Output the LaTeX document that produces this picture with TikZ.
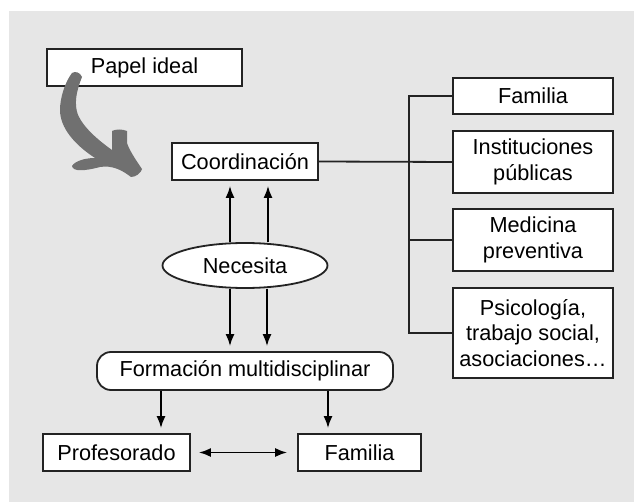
\documentclass[tikz,border=0pt]{standalone}
\usepackage{fontspec}
\setmainfont{Liberation Sans}
\usetikzlibrary{shapes.geometric,arrows.meta}
\definecolor{bggray}{RGB}{230,230,230}
\definecolor{swooshgray}{RGB}{112,112,112}
\definecolor{linegray}{RGB}{35,35,35}

\begin{document}
\begin{tikzpicture}[x=1pt, y=-1pt,
      every node/.style={font=\fontsize{21.7}{25.5}\selectfont},
      block_center/.style ={rectangle, draw=linegray, line width=1.8pt, fill=white,
        align=center, inner sep=0pt, minimum height=37pt},
      block_ellipse/.style ={ellipse, draw=linegray, line width=1.8pt, fill=white,
        inner sep=0pt, minimum width=165pt, minimum height=45pt},
      block_round/.style ={rectangle, rounded corners=14pt, draw=linegray, line width=1.8pt,
        fill=white, inner sep=0pt, minimum width=296pt, minimum height=38pt},
      line/.style ={draw=black, line width=1.8pt, -{Latex[length=12pt,width=9pt]}},
      line_both/.style ={draw=black, line width=1.8pt,
        {Latex[length=12pt,width=9pt]}-{Latex[length=12pt,width=9pt]}},
      branch/.style ={draw=linegray, line width=1.8pt}]
    %
    % 0. page and grey background
    \useasboundingbox (0,0) rectangle (634,502);
    \fill[bggray] (9,11) rectangle (634,502);
    %
    % 1. placing the nodes
    % left part - top
    \node [block_center, minimum width=195pt] (papel) at (144.5,67.5) {Papel ideal};
    \node [block_center, minimum width=146pt] (coord) at (245,161.5) {Coordinación};
    % left part - middle
    \node [block_ellipse] (necesita) at (245,265.5) {Necesita};
    \node [block_round] (formacion) at (245,371) {Formación multidisciplinar};
    % left part - bottom
    \node [block_center, minimum width=147pt] (profesorado) at (116.5,452.5) {Profesorado};
    \node [block_center, minimum width=123pt] (familia_b) at (359.5,452.5) {Familia};
    % right column
    \node [block_center, minimum width=160pt, minimum height=36pt] (familia_r) at (533,96) {Familia};
    \node [block_center, minimum width=160pt, minimum height=62pt] (instituciones) at (533,162) {Instituciones\\públicas};
    \node [block_center, minimum width=160pt, minimum height=62pt] (medicina) at (533,240) {Medicina\\preventiva};
    \node [block_center, minimum width=160pt, minimum height=90pt] (psicologia) at (533,333) {Psicología,\\trabajo social,\\asociaciones\dots};
    \coordinate (trunk) at (409,0);
    %
    % 2. the grey swoosh from Papel ideal
    \fill[swooshgray] (72,73) .. controls (65,82) and (60,98) .. (60,110)
      .. controls (60,128) and (75,145) .. (95,158)
      .. controls (85,158) and (75,161) .. (72,166)
      .. controls (73,172) and (85,171) .. (100,167)
      .. controls (112,165) and (122,170) .. (131,177)
      .. controls (136,177) and (141,173) .. (142,169)
      .. controls (138,163) and (130,152) .. (127,143)
      -- (127,131) .. controls (122,129) and (116,129) .. (112,131)
      -- (112,150)
      .. controls (98,140) and (84,128) .. (78,115)
      .. controls (74,104) and (76,92) .. (82,77)
      .. controls (80,72) and (75,71) .. cycle;
    %
    % 3. connecting nodes with paths
    \begin{scope}[every path/.style=line, shorten >=5pt]
      \path ([xshift=-15pt]necesita.north) -- ([xshift=-15pt]coord.south);
      \path ([xshift=23pt]necesita.north) -- ([xshift=23pt]coord.south);
      \path ([xshift=-15pt]necesita.south) -- ([xshift=-15pt]formacion.north);
      \path ([xshift=22pt]necesita.south) -- ([xshift=22pt]formacion.north);
      %
      \path ([xshift=-84pt]formacion.south) -- ([xshift=-84pt]formacion.south |- profesorado.north);
      \path ([xshift=83pt]formacion.south) -- ([xshift=83pt]formacion.south |- familia_b.north);
    \end{scope}
    \path[line_both, shorten <=8pt, shorten >=10pt] (profesorado.east) -- (familia_b.west);
    %
    % right column branches
    \path[branch] (coord.east) -- (instituciones.west);
    \path[branch] (familia_r.west) -- (familia_r.west -| trunk) -- (psicologia.west -| trunk) -- (psicologia.west);
    \path[branch] (medicina.west -| trunk) -- (medicina.west);
  \end{tikzpicture}
\end{document}
